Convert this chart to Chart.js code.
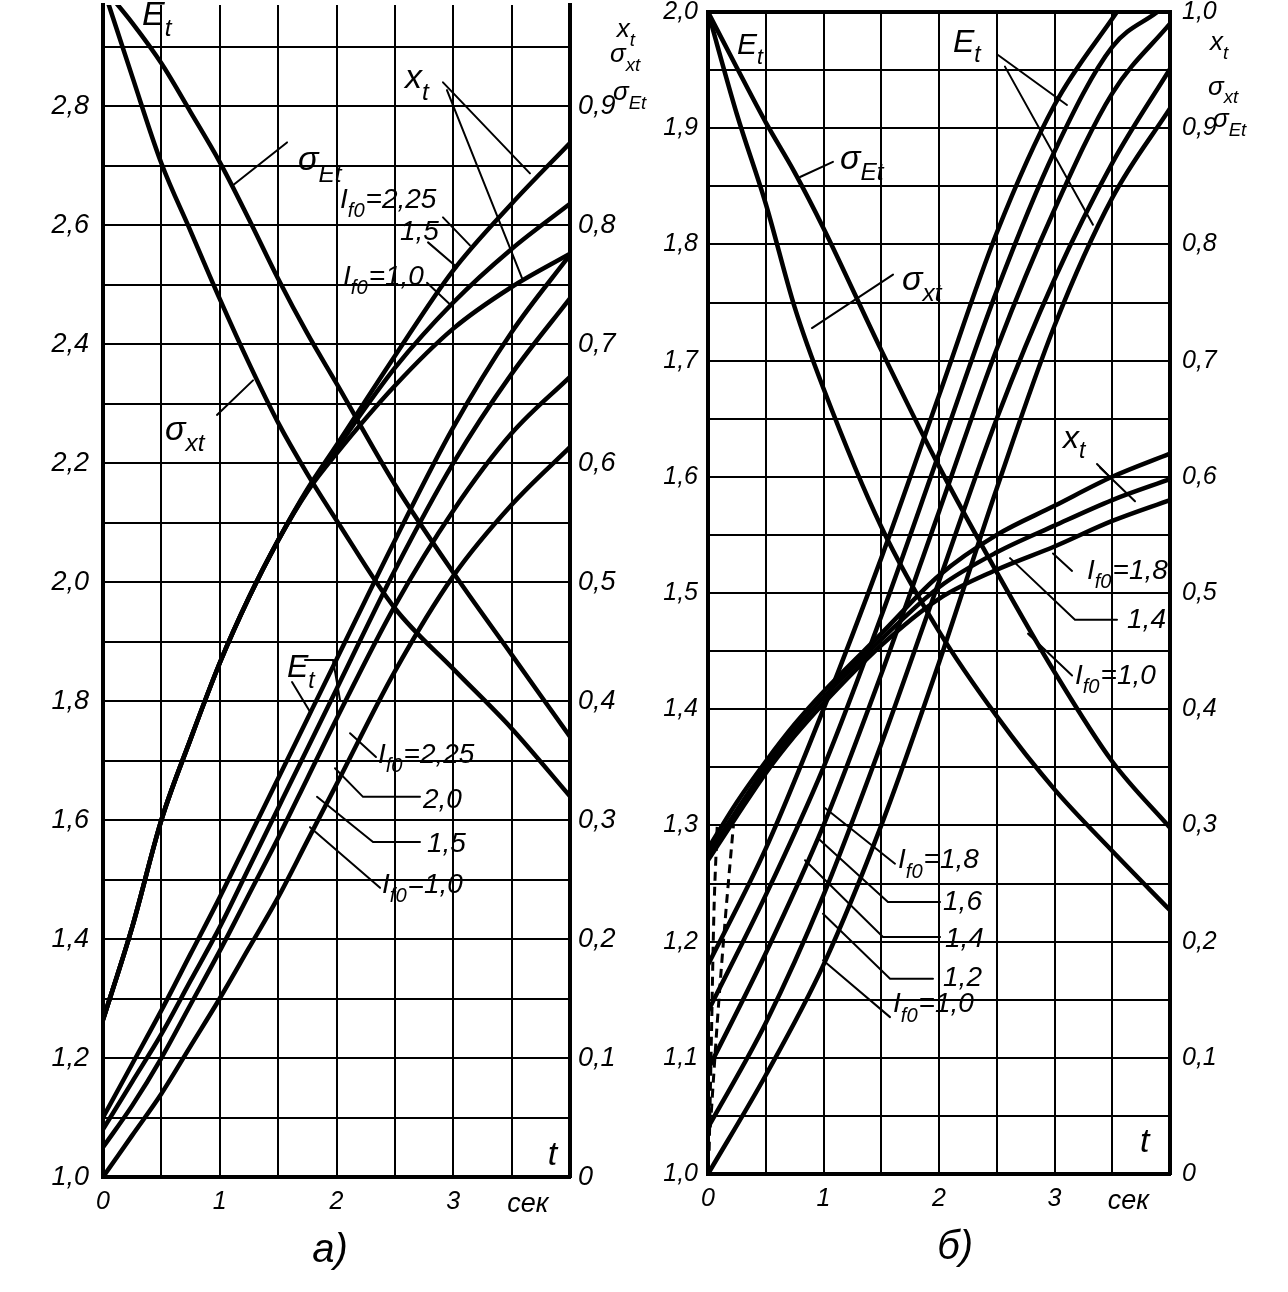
<!DOCTYPE html>
<html><head><meta charset="utf-8">
<script src="https://cdn.jsdelivr.net/npm/chart.js@4.4.1/dist/chart.umd.min.js"></script>
<style>
html,body{margin:0;padding:0;background:#fff;}
#wrap{position:relative;width:1288px;height:1292px;overflow:hidden;background:#fff;}
canvas{position:absolute;top:0;}
#ca{left:0;} #cb{left:640px;}
</style></head><body>
<div id="wrap"><canvas id="ca" width="660" height="1292"></canvas><canvas id="cb" width="648" height="1292"></canvas></div>
<script>
const FONT = "'Liberation Sans', 'DejaVu Sans', sans-serif";

// ---------- Panel a) data ----------
const tA = [0, 0.25, 0.5, 0.75, 1, 1.25, 1.5, 1.75, 2, 2.5, 3, 3.5, 4];
// x_t (right axis) for I_f0 = 2.25, 1.5, 1.0
const xtA_225 = [0.132, 0.21, 0.30, 0.368, 0.432, 0.487, 0.535, 0.578, 0.615, 0.69, 0.762, 0.818, 0.869];
const xtA_15  = [0.132, 0.21, 0.30, 0.368, 0.432, 0.487, 0.535, 0.577, 0.612, 0.68, 0.735, 0.78, 0.818];
const xtA_10  = [0.132, 0.21, 0.30, 0.368, 0.432, 0.487, 0.535, 0.576, 0.608, 0.665, 0.713, 0.748, 0.776];
// sigma curves (right axis)
const sxtA = [1.0, 0.925, 0.852, 0.795, 0.738, 0.684, 0.634, 0.591, 0.552, 0.478, 0.427, 0.377, 0.32];
const sEtA = [1.0, 0.97, 0.936, 0.895, 0.853, 0.805, 0.755, 0.709, 0.667, 0.582, 0.508, 0.439, 0.37];
// E_t (left axis) for I_f0 = 2.25, 2.0, 1.5, 1.0
const EtA_225 = [1.10, 1.19, 1.28, 1.375, 1.47, 1.57, 1.67, 1.77, 1.87, 2.07, 2.26, 2.42, 2.55];
const EtA_20  = [1.08, 1.16, 1.24, 1.33, 1.42, 1.52, 1.62, 1.72, 1.82, 2.02, 2.20, 2.35, 2.477];
const EtA_15  = [1.05, 1.12, 1.20, 1.29, 1.38, 1.475, 1.57, 1.67, 1.77, 1.96, 2.12, 2.25, 2.345];
const EtA_10  = [1.00, 1.07, 1.14, 1.22, 1.30, 1.385, 1.47, 1.565, 1.66, 1.85, 2.01, 2.13, 2.227];

const xGridA = [0, 0.5, 1, 1.5, 2, 2.5, 3, 3.5, 4];
const xLabelsA = ['0', '', '1', '', '2', '', '3', '', ''];
const yGridA = [1.0, 1.1, 1.2, 1.3, 1.4, 1.5, 1.6, 1.7, 1.8, 1.9, 2.0, 2.1, 2.2, 2.3, 2.4, 2.5, 2.6, 2.7, 2.8, 2.9];
const yLabelsA = ['1,0', '', '1,2', '', '1,4', '', '1,6', '', '1,8', '', '2,0', '', '2,2', '', '2,4', '', '2,6', '', '2,8', ''];
const y2TicksA = [0, 0.1, 0.2, 0.3, 0.4, 0.5, 0.6, 0.7, 0.8, 0.9];
const y2LabelsA = ['0', '0,1', '0,2', '0,3', '0,4', '0,5', '0,6', '0,7', '0,8', '0,9'];

// ---------- Panel б) data ----------
const tB = [0, 0.25, 0.5, 0.75, 1, 1.5, 2, 2.5, 3, 3.5, 4];
const sxtB = [1.0, 0.912, 0.835, 0.746, 0.676, 0.557, 0.467, 0.394, 0.331, 0.278, 0.227];
const sEtB = [1.0, 0.952, 0.905, 0.862, 0.814, 0.709, 0.609, 0.518, 0.432, 0.355, 0.298];
const xtB_18 = [0.28, 0.32, 0.355, 0.387, 0.415, 0.465, 0.515, 0.55, 0.575, 0.60, 0.62];
const xtB_14 = [0.275, 0.313, 0.35, 0.382, 0.41, 0.46, 0.505, 0.535, 0.558, 0.58, 0.598];
const xtB_10 = [0.27, 0.308, 0.345, 0.377, 0.405, 0.455, 0.495, 0.52, 0.54, 0.562, 0.58];
const tEtB_18 = [0, 0.5, 1, 1.5, 2, 2.5, 3, 3.54];
const EtB_18  = [1.18, 1.28, 1.40, 1.53, 1.67, 1.81, 1.92, 2.0];
const tEtB_16 = [0, 0.5, 1, 1.5, 2, 2.5, 3, 3.5, 3.89];
const EtB_16  = [1.14, 1.24, 1.35, 1.48, 1.62, 1.76, 1.88, 1.97, 2.0];
const tEtB = [0, 0.5, 1, 1.5, 2, 2.5, 3, 3.5, 4];
const EtB_14 = [1.09, 1.19, 1.30, 1.43, 1.57, 1.71, 1.83, 1.93, 1.99];
const EtB_12 = [1.04, 1.13, 1.24, 1.37, 1.51, 1.65, 1.77, 1.87, 1.951];
const EtB_10 = [1.00, 1.085, 1.18, 1.30, 1.44, 1.59, 1.73, 1.84, 1.917];
const tDashB1 = [0.01, 0.03, 0.05, 0.08];
const dashB1  = [1.02, 1.12, 1.22, 1.30];
const tDashB2 = [0.02, 0.08, 0.15, 0.22];
const dashB2  = [1.04, 1.13, 1.22, 1.30];

const xGridB = [0, 0.5, 1, 1.5, 2, 2.5, 3, 3.5, 4];
const xLabelsB = ['0', '', '1', '', '2', '', '3', '', ''];
const yGridB = [1.0, 1.05, 1.1, 1.15, 1.2, 1.25, 1.3, 1.35, 1.4, 1.45, 1.5, 1.55, 1.6, 1.65, 1.7, 1.75, 1.8, 1.85, 1.9, 1.95, 2.0];
const yLabelsB = ['1,0', '', '1,1', '', '1,2', '', '1,3', '', '1,4', '', '1,5', '', '1,6', '', '1,7', '', '1,8', '', '1,9', '', '2,0'];
const y2TicksB = [0, 0.1, 0.2, 0.3, 0.4, 0.5, 0.6, 0.7, 0.8, 0.9, 1.0];
const y2LabelsB = ['0', '0,1', '0,2', '0,3', '0,4', '0,5', '0,6', '0,7', '0,8', '0,9', '1,0'];

// ---------- helpers ----------
function series(ts, vs, axis, extra) {
  return Object.assign({
    data: ts.map((t, i) => ({ x: t, y: vs[i] })),
    yAxisID: axis, borderColor: '#000', borderWidth: 4.5, pointRadius: 0,
    cubicInterpolationMode: 'monotone', fill: false
  }, extra || {});
}
function richText(ctx, x, y, parts, size) {
  let cx = x;
  for (const [txt, sub] of parts) {
    const fs = sub ? size * 0.72 : size;
    ctx.font = 'italic ' + fs + 'px ' + FONT;
    ctx.fillText(txt, cx, sub ? y + size * 0.33 : y);
    cx += ctx.measureText(txt).width + (sub ? 1 : 0);
  }
}
function noPad(s) { s.paddingTop = 0; s.paddingBottom = 0; s.paddingLeft = 0; s.paddingRight = 0; }
function annotPlugin(p) {
  return {
    id: 'annot' + p.id,
    afterDraw(chart) {
      const ctx = chart.ctx, xs = chart.scales.x, ca = chart.chartArea;
      ctx.save();
      ctx.fillStyle = '#000'; ctx.strokeStyle = '#000';
      ctx.textBaseline = 'alphabetic'; ctx.textAlign = 'left';
      if (p.topFrame) {
        ctx.lineWidth = 4; ctx.beginPath();
        ctx.moveTo(ca.left - 2, ca.top); ctx.lineTo(ca.right + 2, ca.top); ctx.stroke();
      }
      ctx.lineWidth = 2; ctx.lineCap = 'round';
      for (const L of p.leaders) {
        const ys = chart.scales[L.ax || 'y'];
        ctx.beginPath();
        L.pts.forEach(([t, v], i) => {
          const X = xs.getPixelForValue(t), Y = ys.getPixelForValue(v);
          if (i) ctx.lineTo(X, Y); else ctx.moveTo(X, Y);
        });
        ctx.stroke();
      }
      for (const T of p.texts) {
        const ys = chart.scales[T.ax || 'y'];
        richText(ctx, xs.getPixelForValue(T.t), ys.getPixelForValue(T.v), T.parts, T.size);
      }
      ctx.textAlign = 'center';
      for (const B of p.below) {
        ctx.font = 'italic ' + B.size + 'px ' + FONT;
        ctx.fillText(B.text, xs.getPixelForValue(B.t), ca.bottom + B.dy);
      }
      ctx.restore();
    }
  };
}
function panelConfig(p) {
  const tickFont = { family: FONT, size: p.tickSize, style: 'italic' };
  return {
    type: 'line',
    data: { datasets: p.datasets },
    options: {
      responsive: false, animation: false, events: [],
      layout: { padding: { top: p.padTop, left: 0, right: 0, bottom: 0 } },
      plugins: { legend: { display: false }, tooltip: { enabled: false } },
      scales: {
        x: {
          type: 'linear', position: 'bottom', min: 0, max: 4, bounds: 'data',
          afterFit: s => { s.height = p.xHeight; noPad(s); },
          afterBuildTicks: s => { s.ticks = p.xGrid.map(v => ({ value: v })); },
          ticks: { autoSkip: false, maxRotation: 0, padding: 10, color: '#000', font: { family: FONT, size: 25, style: 'italic' },
                   callback: (v, i) => p.xLabels[i] },
          grid: { color: '#000', lineWidth: 2, drawTicks: false },
          border: { color: '#000', width: 4 }
        },
        y: {
          type: 'linear', position: 'left', min: p.yMin, max: p.yMax, bounds: 'data',
          afterFit: s => { s.width = p.yWidth; noPad(s); },
          afterBuildTicks: s => { s.ticks = p.yGrid.map(v => ({ value: v })); },
          ticks: { autoSkip: false, padding: p.yPad, color: '#000', font: tickFont,
                   callback: (v, i) => p.yLabels[i] },
          grid: { color: '#000', lineWidth: 2, drawTicks: false },
          border: { color: '#000', width: 4 }
        },
        y2: {
          type: 'linear', position: 'right', min: p.y2Min, max: p.y2Max, bounds: 'data',
          afterFit: s => { s.width = p.y2Width; noPad(s); },
          afterBuildTicks: s => { s.ticks = p.y2Ticks.map(v => ({ value: v })); },
          ticks: { autoSkip: false, padding: p.y2Pad, color: '#000', font: tickFont,
                   callback: (v, i) => p.y2Labels[i] },
          grid: { drawOnChartArea: false, drawTicks: false },
          border: { color: '#000', width: 4 }
        }
      }
    },
    plugins: [annotPlugin(p)]
  };
}
const S = (s) => [[s, 0]];

// ---------- Panel a) ----------
const panelA = {
  id: 'a', padTop: 5, xHeight: 115, yWidth: 103, y2Width: 90, yPad: 14, y2Pad: 8, tickSize: 27,
  yMin: 1.0, yMax: 2.97, y2Min: 0, y2Max: 0.985,
  xGrid: xGridA, xLabels: xLabelsA, yGrid: yGridA, yLabels: yLabelsA, y2Ticks: y2TicksA, y2Labels: y2LabelsA,
  datasets: [
    series(tA, xtA_225, 'y2'), series(tA, xtA_15, 'y2'), series(tA, xtA_10, 'y2'),
    series(tA, sxtA, 'y2'), series(tA, sEtA, 'y2'),
    series(tA, EtA_225, 'y'), series(tA, EtA_20, 'y'), series(tA, EtA_15, 'y'), series(tA, EtA_10, 'y')
  ],
  texts: [
    { t: 0.334, v: 2.936, size: 34, parts: [['E', 0], ['t', 1]] },
    { t: 1.67, v: 2.692, size: 34, parts: [['σ', 0], ['Et', 1]] },
    { t: 2.587, v: 2.830, size: 34, parts: [['x', 0], ['t', 1]] },
    { t: 2.03, v: 2.629, size: 28, parts: [['I', 0], ['f0', 1], ['=2,25', 0]] },
    { t: 2.544, v: 2.575, size: 28, parts: S('1,5') },
    { t: 2.056, v: 2.499, size: 28, parts: [['I', 0], ['f0', 1], ['=1,0', 0]] },
    { t: 0.531, v: 2.239, size: 34, parts: [['σ', 0], ['xt', 1]] },
    { t: 1.576, v: 1.840, size: 32, parts: [['E', 0], ['t', 1]] },
    { t: 2.355, v: 1.696, size: 28, parts: [['I', 0], ['f0', 1], ['=2,25', 0]] },
    { t: 2.741, v: 1.620, size: 28, parts: S('2,0') },
    { t: 2.775, v: 1.546, size: 28, parts: S('1,5') },
    { t: 2.39, v: 1.477, size: 28, parts: [['I', 0], ['f0', 1], ['=1,0', 0]] },
    { t: 4.40, v: 2.916, size: 26, parts: [['x', 0], ['t', 1]] },
    { t: 4.343, v: 2.874, size: 26, parts: [['σ', 0], ['xt', 1]] },
    { t: 4.368, v: 2.810, size: 26, parts: [['σ', 0], ['Et', 1]] },
    { t: 3.81, v: 1.02, size: 34, parts: S('t') }
  ],
  leaders: [
    { pts: [[1.576, 2.739], [1.113, 2.667]] },
    { pts: [[2.912, 2.840], [3.657, 2.687]] },
    { pts: [[2.946, 2.827], [3.589, 2.511]] },
    { pts: [[2.912, 2.613], [3.143, 2.566]] },
    { pts: [[2.784, 2.571], [3.032, 2.529]] },
    { pts: [[2.775, 2.503], [2.998, 2.462]] },
    { pts: [[0.976, 2.281], [1.285, 2.339]] },
    { pts: [[1.619, 1.832], [1.773, 1.782]] },
    { pts: [[1.730, 1.869], [1.970, 1.869], [2.03, 1.802]] },
    { pts: [[2.338, 1.706], [2.116, 1.746]] },
    { pts: [[2.715, 1.639], [2.227, 1.639], [1.987, 1.687]] },
    { pts: [[2.715, 1.563], [2.313, 1.563], [1.833, 1.639]] },
    { pts: [[2.373, 1.486], [1.773, 1.588]] }
  ],
  below: [
    { t: 3.64, dy: 35, text: 'сек', size: 27 },
    { t: 1.944, dy: 85, text: 'а)', size: 40 }
  ]
};

// ---------- Panel б) ----------
const panelB = {
  id: 'b', padTop: 12, xHeight: 118, yWidth: 68, y2Width: 118, yPad: 10, y2Pad: 12, tickSize: 25, topFrame: true,
  yMin: 1.0, yMax: 2.0, y2Min: 0, y2Max: 1.0,
  xGrid: xGridB, xLabels: xLabelsB, yGrid: yGridB, yLabels: yLabelsB, y2Ticks: y2TicksB, y2Labels: y2LabelsB,
  datasets: [
    series(tB, sxtB, 'y2'), series(tB, sEtB, 'y2'),
    series(tB, xtB_18, 'y2'), series(tB, xtB_14, 'y2'), series(tB, xtB_10, 'y2'),
    series(tEtB_18, EtB_18, 'y'), series(tEtB_16, EtB_16, 'y'),
    series(tEtB, EtB_14, 'y'), series(tEtB, EtB_12, 'y'), series(tEtB, EtB_10, 'y'),
    series(tDashB1, dashB1, 'y', { borderWidth: 3, borderDash: [9, 6] }),
    series(tDashB2, dashB2, 'y', { borderWidth: 3, borderDash: [9, 6] })
  ],
  texts: [
    { t: 0.251, v: 1.964, size: 30, parts: [['E', 0], ['t', 1]] },
    { t: 2.121, v: 1.966, size: 32, parts: [['E', 0], ['t', 1]] },
    { t: 4.346, v: 1.967, size: 26, parts: [['x', 0], ['t', 1]] },
    { t: 4.329, v: 1.929, size: 26, parts: [['σ', 0], ['xt', 1]] },
    { t: 4.372, v: 1.901, size: 26, parts: [['σ', 0], ['Et', 1]] },
    { t: 1.143, v: 1.865, size: 34, parts: [['σ', 0], ['Et', 1]] },
    { t: 1.680, v: 1.761, size: 34, parts: [['σ', 0], ['xt', 1]] },
    { t: 3.074, v: 1.625, size: 32, parts: [['x', 0], ['t', 1]] },
    { t: 3.281, v: 1.512, size: 28, parts: [['I', 0], ['f0', 1], ['=1,8', 0]] },
    { t: 3.628, v: 1.470, size: 28, parts: S('1,4') },
    { t: 3.177, v: 1.422, size: 28, parts: [['I', 0], ['f0', 1], ['=1,0', 0]] },
    { t: 1.645, v: 1.263, size: 28, parts: [['I', 0], ['f0', 1], ['=1,8', 0]] },
    { t: 2.035, v: 1.227, size: 28, parts: S('1,6') },
    { t: 2.052, v: 1.195, size: 28, parts: S('1,4') },
    { t: 2.035, v: 1.162, size: 28, parts: S('1,2') },
    { t: 1.602, v: 1.139, size: 28, parts: [['I', 0], ['f0', 1], ['=1,0', 0]] },
    { t: 3.74, v: 1.019, size: 34, parts: S('t') }
  ],
  leaders: [
    { pts: [[2.511, 1.963], [3.108, 1.920]] },
    { pts: [[2.571, 1.953], [3.333, 1.817]] },
    { pts: [[1.082, 1.871], [0.797, 1.858]] },
    { pts: [[1.602, 1.774], [0.900, 1.728]] },
    { pts: [[3.368, 1.611], [3.498, 1.598]] },
    { pts: [[3.394, 1.608], [3.697, 1.579]] },
    { pts: [[3.152, 1.519], [2.987, 1.534]] },
    { pts: [[3.541, 1.477], [3.177, 1.477], [2.615, 1.530]] },
    { pts: [[3.152, 1.429], [2.771, 1.465]] },
    { pts: [[1.619, 1.267], [1.013, 1.315]] },
    { pts: [[2.009, 1.234], [1.558, 1.234], [0.952, 1.289]] },
    { pts: [[2.009, 1.204], [1.515, 1.204], [0.840, 1.270]] },
    { pts: [[1.948, 1.168], [1.576, 1.168], [0.996, 1.224]] },
    { pts: [[1.576, 1.135], [0.996, 1.184]] }
  ],
  below: [
    { t: 3.64, dy: 35, text: 'сек', size: 27 },
    { t: 2.14, dy: 85, text: 'б)', size: 40 }
  ]
};

new Chart(document.getElementById('ca'), panelConfig(panelA));
new Chart(document.getElementById('cb'), panelConfig(panelB));
</script>
</body></html>
